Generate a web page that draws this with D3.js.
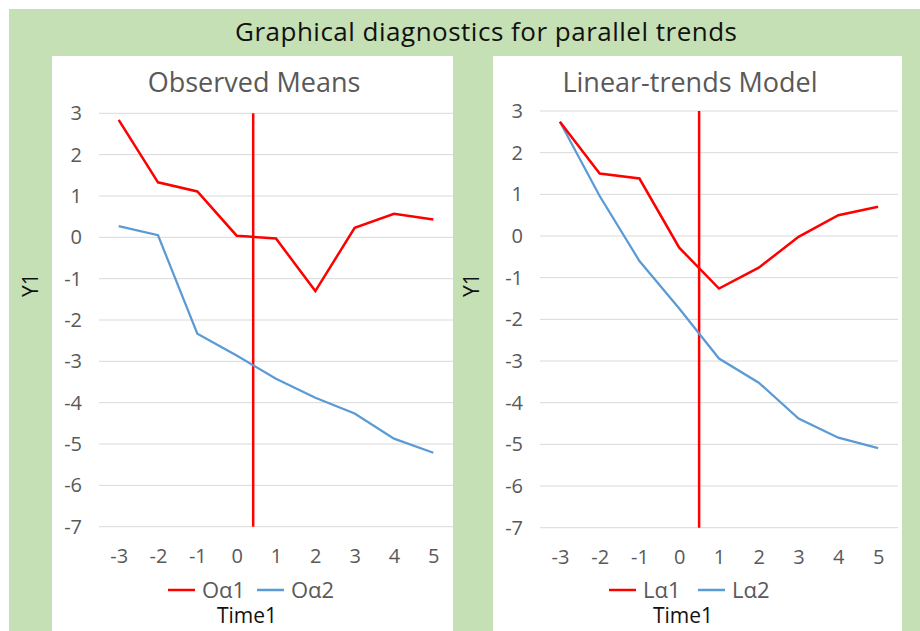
<!DOCTYPE html>
<html>
<head>
<meta charset="utf-8">
<script src="https://cdn.jsdelivr.net/npm/d3@7"></script>
<style>
  body { margin: 0; background: #fff; }
  svg text { font-family: "Open Sans", "Noto Sans", sans-serif; }
</style>
</head>
<body>
<svg id="chart" width="920" height="631"></svg>
<script>
const svg = d3.select('#chart')

// dati
const times = [-3, -2, -1, 0, 1, 2, 3, 4, 5]
const yTicks = [3, 2, 1, 0, -1, -2, -3, -4, -5, -6, -7]
const obs1 = [2.84, 1.33, 1.11, 0.04, -0.03, -1.30, 0.23, 0.57, 0.43]
const obs2 = [0.27, 0.05, -2.33, -2.86, -3.42, -3.88, -4.26, -4.87, -5.21]
const lin1 = [2.74, 1.50, 1.38, -0.28, -1.26, -0.76, -0.02, 0.50, 0.70]
const lin2 = [2.74, 0.96, -0.60, -1.74, -2.94, -3.52, -4.38, -4.84, -5.09]

const red = "#ff0000"
const blue = "#5b9bd5"
const grid = "#d9d9d9"
const grey = "#595959"
const fmt = d => String(d) // trattino normale, non il segno meno

// sfondo verde
svg.append("rect")
  .attr("x", 9).attr("y", 9)
  .attr("width", 911).attr("height", 622)
  .attr("fill", "#c5e0b4")

svg.append("text")
  .attr("x", 486).attr("y", 41)
  .attr("text-anchor", "middle")
  .attr("font-size", "26px")
  .attr("textLength", 502)
  .attr("fill", "#111")
  .text("Graphical diagnostics for parallel trends")

function pannello(opt) {
  const g = svg.append("g")
  g.append("rect")
    .attr("x", opt.px).attr("y", 56)
    .attr("width", opt.pw).attr("height", 575)
    .attr("fill", "#fff")

  g.append("text")
    .attr("x", opt.titleX).attr("y", 92)
    .attr("text-anchor", "middle")
    .attr("font-size", "27px")
    .attr("fill", grey)
    .text(opt.title)

  const x = d3.scalePoint().domain(times).range([opt.x0, opt.x1]).padding(0.5)
  const y = d3.scaleLinear().domain([-7, 3]).range([opt.yb, opt.yt])

  // griglia
  g.selectAll("line.grid").data(yTicks).enter()
    .append("line")
    .attr("x1", opt.x0).attr("x2", opt.x1)
    .attr("y1", d => y(d)).attr("y2", d => y(d))
    .attr("stroke", grid).attr("stroke-width", 1)

  const asseY = g.append("g")
    .attr("transform", `translate(${opt.x0 - 17},0)`)
    .call(d3.axisLeft(y).tickValues(yTicks).tickFormat(fmt).tickSize(0).tickPadding(0))
  asseY.select(".domain").remove()
  asseY.selectAll("text").attr("font-size", "20px").attr("fill", grey)
    .attr("font-family", "'Open Sans', sans-serif")

  const asseX = g.append("g")
    .attr("transform", `translate(0,${opt.yb + 22})`)
    .call(d3.axisBottom(x).tickFormat(fmt).tickSize(0).tickPadding(0))
  asseX.select(".domain").remove()
  asseX.selectAll("text").attr("font-size", "20px").attr("fill", grey)
    .attr("font-family", "'Open Sans', sans-serif")

  // linea verticale rossa tra 0 e 1
  const xv = x(0) + (x(1) - x(0)) * opt.vline
  g.append("line")
    .attr("x1", xv).attr("x2", xv)
    .attr("y1", y(3)).attr("y2", y(-7))
    .attr("stroke", red).attr("stroke-width", 2.5)

  const linea = d3.line().x((d, i) => x(times[i])).y(d => y(d))
  g.append("path").datum(opt.s2)
    .attr("d", linea).attr("fill", "none")
    .attr("stroke", blue).attr("stroke-width", 2.25)
  g.append("path").datum(opt.s1)
    .attr("d", linea).attr("fill", "none")
    .attr("stroke", red).attr("stroke-width", 2.5)

  // legenda
  const leg = [[opt.n1, red], [opt.n2, blue]]
  leg.forEach((l, i) => {
    const lx = opt.legX + i * 89
    g.append("line")
      .attr("x1", lx).attr("x2", lx + 27)
      .attr("y1", 590).attr("y2", 590)
      .attr("stroke", l[1]).attr("stroke-width", 2.5)
    g.append("text")
      .attr("x", lx + 34).attr("y", 598)
      .attr("font-size", "22px").attr("fill", grey)
      .text(l[0])
  })

  g.append("text")
    .attr("x", opt.titleX - 7).attr("y", 623)
    .attr("text-anchor", "middle")
    .attr("font-family", "'Liberation Sans', Arial, sans-serif")
    .attr("font-size", "21px").attr("fill", "#111")
    .text("Time1")

  g.append("text")
    .attr("transform", `translate(${opt.px - 14},285) rotate(-90)`)
    .attr("text-anchor", "middle")
    .attr("font-family", "'Liberation Sans', Arial, sans-serif")
    .attr("font-size", "21px").attr("fill", "#111")
    .text("Y1")
}

pannello({ px: 52, pw: 401, x0: 99, x1: 453, yt: 113.3, yb: 526.7,
  title: "Observed Means", titleX: 254, s1: obs1, s2: obs2,
  n1: "Oα1", n2: "Oα2", legX: 168, vline: 0.42 })

pannello({ px: 493, pw: 409, x0: 540, x1: 898, yt: 111, yb: 527.7,
  title: "Linear-trends Model", titleX: 690, s1: lin1, s2: lin2,
  n1: "Lα1", n2: "Lα2", legX: 609, vline: 0.5 })
</script>
</body>
</html>
